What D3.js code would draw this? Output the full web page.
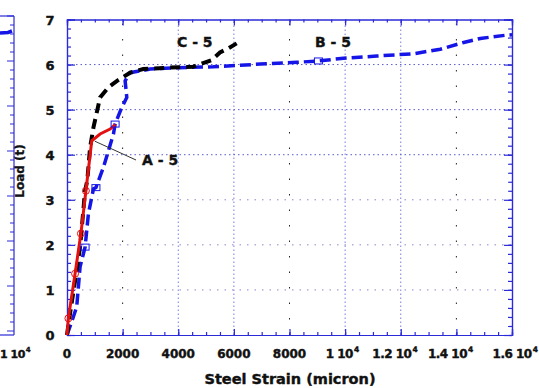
<!DOCTYPE html>
<html>
<head>
<meta charset="utf-8">
<script src="https://cdn.jsdelivr.net/npm/d3@7"></script>
<style>
  body { margin: 0; background: #fff; }
  svg { display: block; }
</style>
</head>
<body>
<script>
// curve data (strain in micron, load in t)
const c5Strain = [0, 110, 290, 470, 650, 730, 830, 950, 1190, 1500, 1800, 2270, 2740, 3600, 4530, 4800, 5200, 5500, 5800, 6100];
const c5Load   = [0, 0.48, 1.2, 1.95, 3.2, 3.43, 4.16, 4.6, 5.27, 5.5, 5.64, 5.82, 5.9, 5.93, 5.95, 6.01, 6.1, 6.27, 6.36, 6.47];

const b5Strain = [0, 200, 350, 470, 650, 770, 950, 1040, 1310, 1490, 1670, 1730, 1970, 2150, 2090, 2270, 2990, 4000, 5260, 6940, 8260, 9040, 9940, 11140, 12460, 13420, 14260, 14860, 15760, 16000];
const b5Load   = [0, 0.35, 0.63, 1.51, 1.95, 2.69, 3.24, 3.27, 3.72, 4.09, 4.46, 4.68, 5.05, 5.27, 5.64, 5.82, 5.9, 5.93, 5.95, 6.01, 6.05, 6.08, 6.14, 6.19, 6.24, 6.34, 6.49, 6.58, 6.65, 6.66];
const b5Marks  = [4, 7, 11, 21];

const a5Strain = [0, 50, 290, 500, 680, 890, 1190, 1550, 1730];
const a5Load   = [0, 0.37, 1.36, 2.25, 3.2, 4.31, 4.46, 4.57, 4.67];
const a5Marks  = [1, 2, 3, 4];

const xTicks = [0, 2000, 4000, 6000, 8000, 10000, 12000, 14000, 16000];
const xTickLabels = ["0", "2000", "4000", "6000", "8000", "1 10|4", "1.2 10|4", "1.4 10|4", "1.6 10|4"];
const yTicks = [0, 1, 2, 3, 4, 5, 6, 7];

const W = 539, H = 388;
const axisBlue = "#2a2ad8";
const font = "'DejaVu Sans', sans-serif";

const svg = d3.select("body").append("svg")
  .attr("width", W)
  .attr("height", H);

let x = d3.scaleLinear().domain([0, 16000]).range([67, 512]);
let y = d3.scaleLinear().domain([0, 7]).range([335, 19.5]);

// gridlines
const grid = svg.append("g");
xTicks.slice(1, -1).forEach(t => {
  let dense = (t == 4000 || t == 6000 || t == 10000 || t == 12000);
  grid.append("line")
    .attr("x1", x(t)).attr("x2", x(t))
    .attr("y1", y(0)).attr("y2", y(7))
    .attr("stroke", dense ? "#7a7ae0" : "#222")
    .attr("stroke-width", 1)
    .attr("stroke-dasharray", dense ? "1.5,2.5" : "1.5,14");
});
yTicks.slice(1, -1).forEach(t => {
  grid.append("line")
    .attr("x1", x(0)).attr("x2", x(16000))
    .attr("y1", y(t)).attr("y2", y(t))
    .attr("stroke", t >= 4 ? "#5a5ad0" : "#8888cc")
    .attr("stroke-width", 1)
    .attr("stroke-dasharray", t >= 4 ? "1.5,3" : "1.5,6");
});

// axes, ticks inward on all four sides
const xMinor = d3.range(0, 16001, 500);
const yMinor = d3.range(0, 7.01, 0.2);

const axBottom = svg.append("g").attr("transform", `translate(0,${y(0)})`);
d3.axisTop(x).tickValues(xMinor).tickSize(3).tickFormat("")(axBottom);
const axTop = svg.append("g").attr("transform", `translate(0,${y(7)})`);
d3.axisBottom(x).tickValues(xMinor).tickSize(3).tickFormat("")(axTop);
const axBottomMaj = svg.append("g").attr("transform", `translate(0,${y(0)})`);
d3.axisTop(x).tickValues(xTicks).tickSize(6).tickFormat("")(axBottomMaj);
const axTopMaj = svg.append("g").attr("transform", `translate(0,${y(7)})`);
d3.axisBottom(x).tickValues(xTicks).tickSize(6).tickFormat("")(axTopMaj);

const axLeft = svg.append("g").attr("transform", `translate(${x(0)},0)`);
d3.axisRight(y).tickValues(yMinor).tickSize(4).tickFormat("")(axLeft);
const axRight = svg.append("g").attr("transform", `translate(${x(16000)},0)`);
d3.axisLeft(y).tickValues(yMinor).tickSize(4).tickFormat("")(axRight);
const axLeftMaj = svg.append("g").attr("transform", `translate(${x(0)},0)`);
d3.axisRight(y).tickValues(yTicks).tickSize(8).tickFormat("")(axLeftMaj);
const axRightMaj = svg.append("g").attr("transform", `translate(${x(16000)},0)`);
d3.axisLeft(y).tickValues(yTicks).tickSize(8).tickFormat("")(axRightMaj);

svg.selectAll(".domain, .tick line")
  .attr("stroke", axisBlue)
  .attr("stroke-width", 1.2);

// tick labels (heavy, like the scan)
const xl = svg.append("g")
  .attr("font-family", font)
  .attr("font-weight", "bold")
  .attr("font-size", "12px")
  .attr("fill", "#111")
  .attr("stroke", "#111")
  .attr("stroke-width", 0.4);
const supShift = [0, 0, 0, 0, 0, -3, -6, -6, 3];
xTicks.forEach((t, i) => {
  let parts = xTickLabels[i].split("|");
  let txt = xl.append("text")
    .attr("x", x(t) + supShift[i])
    .attr("y", 358)
    .attr("text-anchor", "middle")
    .attr("letter-spacing", parts.length > 1 ? "-0.5px" : null)
    .text(parts[0]);
  if (parts.length > 1) {
    txt.append("tspan")
      .attr("font-size", "7.5px")
      .attr("dx", 1)
      .attr("dy", -6)
      .text(parts[1]);
  }
});

const yl = svg.append("g")
  .attr("font-family", font)
  .attr("font-weight", "bold")
  .attr("font-size", "13px")
  .attr("fill", "#111")
  .attr("stroke", "#111")
  .attr("stroke-width", 0.4);
yTicks.forEach(t => {
  yl.append("text")
    .attr("x", 50)
    .attr("y", y(t) + 5)
    .attr("text-anchor", "middle")
    .text(t);
});

svg.append("text")
  .attr("x", 290)
  .attr("y", 384)
  .attr("text-anchor", "middle")
  .attr("font-family", font)
  .attr("font-weight", "bold")
  .attr("font-size", "14.5px")
  .attr("fill", "#111")
  .attr("stroke", "#111")
  .attr("stroke-width", 0.4)
  .text("Steel Strain (micron)");

svg.append("text")
  .attr("transform", "translate(24,171) rotate(-90)")
  .attr("text-anchor", "middle")
  .attr("font-family", font)
  .attr("font-weight", "bold")
  .attr("font-size", "12px")
  .attr("fill", "#111")
  .attr("stroke", "#111")
  .attr("stroke-width", 0.3)
  .text("Load (t)");

// curves
const pts = (xs, ys) => xs.map((v, i) => [v, ys[i]]);
const lineX = d3.line().x(d => x(d[0])).y(d => y(d[1]));

svg.append("path")
  .attr("d", lineX(pts(b5Strain, b5Load)))
  .attr("fill", "none")
  .attr("stroke", "#1515e8")
  .attr("stroke-width", 3.5)
  .attr("stroke-dasharray", "11,5");

svg.append("path")
  .attr("d", lineX(pts(c5Strain, c5Load)))
  .attr("fill", "none")
  .attr("stroke", "#000")
  .attr("stroke-width", 4)
  .attr("stroke-dasharray", "10,6");

svg.append("path")
  .attr("d", lineX(pts(a5Strain, a5Load)))
  .attr("fill", "none")
  .attr("stroke", "#e41010")
  .attr("stroke-width", 3);

// markers
svg.selectAll(".bm")
  .data(b5Marks)
  .enter()
  .append("rect")
    .attr("x", i => x(b5Strain[i]) - 4)
    .attr("y", i => y(b5Load[i]) - 3)
    .attr("width", 8)
    .attr("height", 6)
    .attr("fill", "none")
    .attr("stroke", "#1515e8")
    .attr("stroke-width", 1);

svg.selectAll(".am")
  .data(a5Marks)
  .enter()
  .append("circle")
    .attr("cx", i => x(a5Strain[i]))
    .attr("cy", i => y(a5Load[i]))
    .attr("r", 3.5)
    .attr("fill", "none")
    .attr("stroke", "#e41010")
    .attr("stroke-width", 1);

// labels
const lab = svg.append("g")
  .attr("font-family", font)
  .attr("font-weight", "bold")
  .attr("font-size", "14px")
  .attr("fill", "#111")
  .attr("stroke", "#111")
  .attr("stroke-width", 0.4);
lab.append("text").attr("x", 177).attr("y", 47).text("C - 5");
lab.append("text").attr("x", 315).attr("y", 47).text("B - 5");
lab.append("text").attr("x", 142).attr("y", 165).text("A - 5");

svg.append("line")
  .attr("x1", x(1000)).attr("y1", y(4.3))
  .attr("x2", 136).attr("y2", 160)
  .attr("stroke", "#333")
  .attr("stroke-width", 1);

// edge of the neighbouring panel on the left
const side = svg.append("g");
side.append("line")
  .attr("x1", 14).attr("x2", 14).attr("y1", 16).attr("y2", y(0))
  .attr("stroke", axisBlue).attr("stroke-width", 1.2);
side.append("line")
  .attr("x1", 0).attr("x2", 14).attr("y1", 16).attr("y2", 16)
  .attr("stroke", axisBlue).attr("stroke-width", 1.2);
side.append("line")
  .attr("x1", 0).attr("x2", 14).attr("y1", y(0)).attr("y2", y(0))
  .attr("stroke", axisBlue).attr("stroke-width", 1.2);
d3.range(16, y(0), 9).forEach((v, i) => {
  side.append("line")
    .attr("x1", i % 5 == 0 ? 7 : 10).attr("x2", 14).attr("y1", v).attr("y2", v)
    .attr("stroke", axisBlue).attr("stroke-width", 1);
});
side.append("path")
  .attr("d", "M0,33 L8,32.5 L12,31")
  .attr("fill", "none")
  .attr("stroke", "#1515e8")
  .attr("stroke-width", 3.5);
side.append("text")
  .attr("x", 0)
  .attr("y", 358)
  .attr("font-family", font)
  .attr("font-weight", "bold")
  .attr("font-size", "11px")
  .attr("letter-spacing", "-0.5px")
  .attr("fill", "#111")
  .attr("stroke", "#111")
  .attr("stroke-width", 0.4)
  .text("1 10")
  .append("tspan").attr("font-size", "7px").attr("dx", 1).attr("dy", -6).text("4");
</script>
</body>
</html>
